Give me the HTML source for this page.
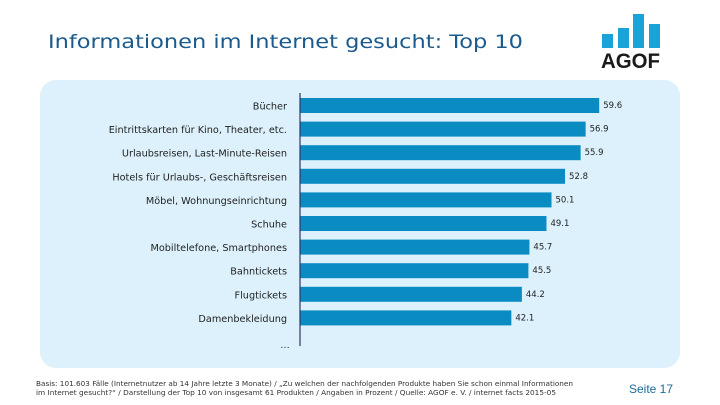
<!DOCTYPE html>
<html><head><meta charset="utf-8"><style>
body{margin:0;width:720px;height:405px;background:#fff;font-family:"Liberation Sans",sans-serif;overflow:hidden;position:relative}
.panel{position:absolute;left:40px;top:80px;width:640px;height:288px;background:#dcf1fb;border-radius:16px}
.pg{position:absolute;left:629px;top:382px;font-size:12px;color:#1a6a9c}
</style></head><body>
<svg style="position:absolute;left:0;top:0" width="720" height="80">
<text x="48" y="48" font-family="DejaVu Sans" font-size="19" fill="#1a5a8c" textLength="475" lengthAdjust="spacingAndGlyphs">Informationen im Internet gesucht: Top 10</text>
<g>
<rect x="602" y="34" width="11" height="14" fill="#1aa3d8"/><rect x="618" y="28" width="11" height="20" fill="#1aa3d8"/>
<rect x="633" y="14" width="11" height="34" fill="#1aa3d8"/><rect x="649" y="24" width="11" height="24" fill="#1aa3d8"/>
<text x="601" y="68" font-family="Liberation Sans" font-weight="bold" font-size="21" fill="#1a1a1a" textLength="59" lengthAdjust="spacingAndGlyphs">AGOF</text>
</g>
</svg>
<div class="panel"></div>
<svg id="c" style="position:absolute;left:0;top:0" width="720" height="405"></svg>
<svg style="position:absolute;left:0;top:370px" width="600" height="35">
<text x="36" y="16" font-family="DejaVu Sans" font-size="6.8" fill="#333" textLength="537" lengthAdjust="spacingAndGlyphs">Basis: 101.603 Fälle (Internetnutzer ab 14 Jahre letzte 3 Monate) / „Zu welchen der nachfolgenden Produkte haben Sie schon einmal Informationen</text>
<text x="36" y="25" font-family="DejaVu Sans" font-size="6.8" fill="#333" textLength="520" lengthAdjust="spacingAndGlyphs">im Internet gesucht?“ / Darstellung der Top 10 von insgesamt 61 Produkten / Angaben in Prozent / Quelle: AGOF e. V. / internet facts 2015-05</text>
</svg>
<div class="pg">Seite 17</div>
<script>
const categories=["Bücher","Eintrittskarten für Kino, Theater, etc.","Urlaubsreisen, Last-Minute-Reisen","Hotels für Urlaubs-, Geschäftsreisen","Möbel, Wohnungseinrichtung","Schuhe","Mobiltelefone, Smartphones","Bahntickets","Flugtickets","Damenbekleidung"];
const values=[59.6,56.9,55.9,52.8,50.1,49.1,45.7,45.5,44.2,42.1];
const labels=["59.6","56.9","55.9","52.8","50.1","49.1","45.7","45.5","44.2","42.1"];
const svg=document.getElementById('c');const NS='http://www.w3.org/2000/svg';
const x0=300,k=5.02;const xs=v=>x0+v*k;const ys=i=>98+i*23.6;
function mk(t,a){const e=document.createElementNS(NS,t);for(const n in a)e.setAttribute(n,a[n]);svg.appendChild(e);return e;}
values.forEach((v,i)=>{
const r=mk('rect',{x:x0,y:ys(i),width:xs(v)-x0,height:15,fill:'#0a8cc3'});


const l=mk('text',{x:287,y:ys(i)+11.5,'text-anchor':'end','font-size':'9.7','font-family':'DejaVu Sans',fill:'#222'});l.textContent=categories[i];


const t=mk('text',{x:xs(v)+4,y:ys(i)+10,'font-size':'8.5','font-family':'DejaVu Sans',fill:'#222'});t.textContent=labels[i];


});
const ax=mk('line',{x1:x0,y1:93,x2:x0,y2:346,stroke:'#336',"stroke-width":1.2});


const d=mk('text',{x:280,y:348,'font-size':'10',fill:'#222'});d.textContent='…';


</script>
</body></html>
